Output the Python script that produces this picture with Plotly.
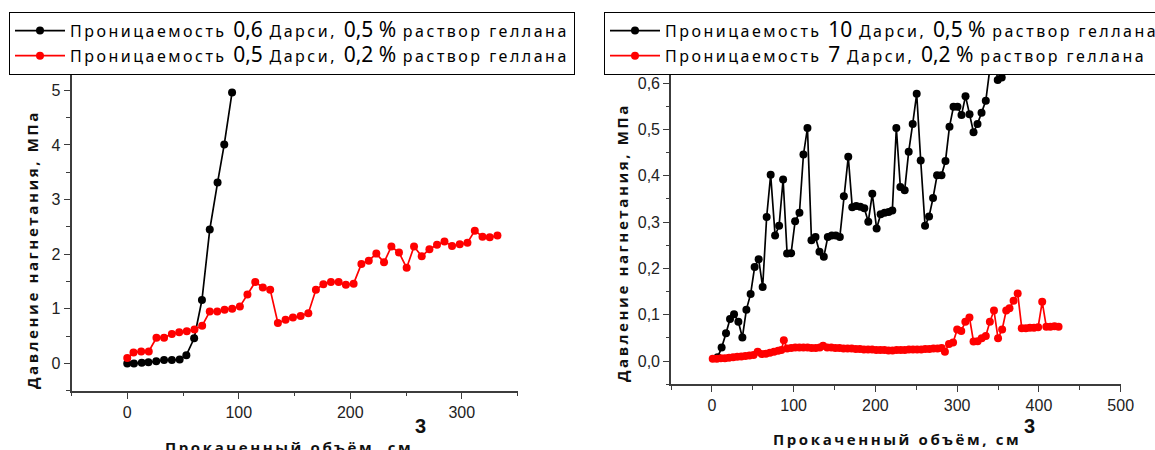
import plotly.graph_objects as go

# ---------------- data ----------------
# Left chart
left_black_x = [0, 6, 13, 19, 26, 33, 40, 47, 53, 60, 67, 74, 81, 87, 94]
left_black_y = [0.0, 0.0, 0.01, 0.02, 0.04, 0.06, 0.06, 0.07, 0.15, 0.46, 1.16, 2.45, 3.31, 4.01, 4.96]

left_red_x = [0, 5.6, 12.5, 19.3, 26.2, 33, 40, 46.6, 53.4, 60.3, 67.2, 74, 80.7, 87.3, 94.1,
              101, 107.8, 114.8, 121.6, 128.2, 135.1, 142, 148.6, 155.5, 162.4, 169.2, 175.9,
              182.7, 189.6, 196.1, 203, 210, 216.6, 223.4, 230.3, 236.9, 243.7, 250.6, 257.2,
              264.1, 271, 277.8, 284.5, 291.3, 298.2, 305.1, 311.7, 318.6, 325.1, 332]
left_red_y = [0.1, 0.2, 0.22, 0.22, 0.47, 0.47, 0.54, 0.57, 0.59, 0.62, 0.69, 0.95, 0.95, 0.98, 1.0,
              1.04, 1.26, 1.49, 1.39, 1.35, 0.74, 0.80, 0.84, 0.87, 0.92, 1.35, 1.45, 1.49, 1.49,
              1.44, 1.46, 1.82, 1.88, 2.01, 1.85, 2.14, 2.03, 1.75, 2.14, 1.96, 2.09, 2.17, 2.23,
              2.15, 2.18, 2.21, 2.43, 2.32, 2.31, 2.34]

# Right chart
right_black_x = [7, 11.9, 17.3, 22.2, 27.1, 32.4, 37.3, 42.2, 47.4, 52.3, 57.2, 62.1, 67, 71.9,
                 77.3, 82.2, 87.1, 92, 96.9, 101.8, 107.1, 112, 116.9, 121.8, 126.7, 131.6, 136.9,
                 141.8, 146.7, 151.6, 156.5, 161.4, 166.8, 171.7, 176.6, 181.5, 186.4, 191.3,
                 196.2, 201.5, 206.4, 211.3, 216.2, 220.7, 225.6, 230.5, 235.8, 240.7, 245.6,
                 250.5, 255.4, 260.7, 265.6, 270.5, 275.4, 280.8, 285.7, 290.6, 295.5, 300.4,
                 305.3, 310.2, 315.1, 320, 324.9, 329.8, 335, 339.9, 344.8, 349.6, 354.5]
right_black_y = [0.008, 0.029, 0.060, 0.091, 0.101, 0.085, 0.051, 0.111, 0.145, 0.203, 0.220,
                 0.160, 0.311, 0.402, 0.271, 0.292, 0.392, 0.232, 0.233, 0.302, 0.320, 0.446,
                 0.503, 0.261, 0.268, 0.236, 0.225, 0.268, 0.271, 0.271, 0.268, 0.356, 0.441,
                 0.332, 0.335, 0.333, 0.330, 0.301, 0.361, 0.286, 0.317, 0.320, 0.322, 0.325,
                 0.503, 0.376, 0.369, 0.452, 0.512, 0.577, 0.433, 0.292, 0.312, 0.352, 0.401,
                 0.401, 0.432, 0.506, 0.549, 0.549, 0.531, 0.572, 0.533, 0.494, 0.512, 0.536,
                 0.562, 0.630, 0.660, 0.607, 0.612]

right_red_x = [1, 6, 11, 16, 21, 26, 31, 36, 41, 46, 51, 56, 61, 66, 71, 76, 81, 85, 88, 92, 97,
               102, 107, 112, 117, 122, 127, 132, 136, 141, 146, 151, 156, 161, 166, 171, 176,
               181, 186, 191, 196, 201, 206, 211, 216, 221, 226, 231, 236, 241, 246, 251, 256,
               261, 266, 271, 276, 281, 285, 290, 295, 300, 305, 310, 315, 320, 325, 330, 335,
               340, 345, 350, 355, 360, 364, 369, 374, 379, 384, 389, 394, 399, 404, 409, 414,
               419, 424]
right_red_y = [0.005, 0.005, 0.006, 0.006, 0.007, 0.008, 0.009, 0.010, 0.011, 0.012, 0.013,
               0.020, 0.015, 0.016, 0.018, 0.020, 0.022, 0.024, 0.045, 0.027, 0.028, 0.029,
               0.029, 0.029, 0.029, 0.028, 0.028, 0.029, 0.033, 0.029, 0.029, 0.028, 0.028,
               0.027, 0.027, 0.027, 0.026, 0.026, 0.025, 0.025, 0.025, 0.024, 0.024, 0.024,
               0.023, 0.023, 0.024, 0.024, 0.024, 0.025, 0.025, 0.025, 0.025, 0.026, 0.026,
               0.027, 0.027, 0.028, 0.020, 0.037, 0.040, 0.068, 0.065, 0.085, 0.094, 0.042,
               0.043, 0.049, 0.054, 0.085, 0.109, 0.049, 0.068, 0.109, 0.114, 0.130, 0.146,
               0.071, 0.071, 0.072, 0.072, 0.073, 0.128, 0.074, 0.074, 0.075, 0.074]

# Legend labels: (text, is_number)
left_black_label = [("Проницаемость ", False), ("0,6", True), (" Дарси, ", False),
                    ("0,5 %", True), (" раствор геллана", False)]
left_red_label = [("Проницаемость ", False), ("0,5", True), (" Дарси, ", False),
                  ("0,2 %", True), (" раствор геллана", False)]
right_black_label = [("Проницаемость ", False), ("10", True), (" Дарси, ", False),
                     ("0,5 %", True), (" раствор геллана", False)]
right_red_label = [("Проницаемость ", False), ("7", True), (" Дарси, ", False),
                   ("0,2 %", True), (" раствор геллана", False)]

y_title = "Давление нагнетания, МПа"
x_title = "Прокаченный объём, см"
x_title_sup = "3"

left_x_ticks = [0, 100, 200, 300]
left_y_ticks = [0, 1, 2, 3, 4, 5]
right_x_ticks = [0, 100, 200, 300, 400, 500]
right_y_ticks = [0.0, 0.1, 0.2, 0.3, 0.4, 0.5, 0.6]

# ---------------- helpers ----------------
W, H = 1155, 450


def styled(parts):
    out = []
    for txt, big in parts:
        if big:
            out.append('<span style="font-size:21px">%s</span>' % txt)
        else:
            out.append('<span style="font-size:16px;letter-spacing:2.5px">%s</span>' % txt)
    return "".join(out)


def px_x(p):
    return p / W


def px_y(p):
    return 1 - p / H


fig = go.Figure()

mk = 8
lw = 1.7
fig.add_trace(go.Scatter(x=left_black_x, y=left_black_y, mode="lines+markers",
                         line=dict(color="black", width=lw),
                         marker=dict(color="black", size=mk),
                         name=styled(left_black_label), xaxis="x", yaxis="y", legend="legend"))
fig.add_trace(go.Scatter(x=left_red_x, y=left_red_y, mode="lines+markers",
                         line=dict(color="#ff0000", width=lw),
                         marker=dict(color="#ff0000", size=mk),
                         name=styled(left_red_label), xaxis="x", yaxis="y", legend="legend"))
fig.add_trace(go.Scatter(x=right_black_x, y=right_black_y, mode="lines+markers",
                         line=dict(color="black", width=lw),
                         marker=dict(color="black", size=mk),
                         name=styled(right_black_label), xaxis="x2", yaxis="y2", legend="legend2"))
fig.add_trace(go.Scatter(x=right_red_x, y=right_red_y, mode="lines+markers",
                         line=dict(color="#ff0000", width=lw),
                         marker=dict(color="#ff0000", size=mk),
                         name=styled(right_red_label), xaxis="x2", yaxis="y2", legend="legend2"))

axis_color = "#3c3c3c"
tick_font = dict(family="Arial, Liberation Sans", size=16, color="#222222")
common = dict(showline=True, linecolor=axis_color, linewidth=1.6, ticks="outside",
              tickcolor=axis_color, tickwidth=1.4, ticklen=6, showgrid=False,
              zeroline=False, tickfont=tick_font, mirror=False)

legend_common = dict(xanchor="left", yanchor="top",
                     bgcolor="white", bordercolor="black", borderwidth=1,
                     font=dict(family="Noto Sans", size=17, color="black"),
                     itemwidth=50, tracegroupgap=0)

fig.update_layout(
    width=W, height=H,
    margin=dict(l=0, r=0, t=0, b=0, autoexpand=False),
    paper_bgcolor="white", plot_bgcolor="white",
    separators=", ",
    showlegend=True,
    xaxis=dict(domain=[px_x(71.5), px_x(517.5)], range=[-50, 350], anchor="y",
               tickvals=left_x_ticks,
               minor=dict(dtick=50, tick0=0, ticks="outside", ticklen=3.5, tickcolor=axis_color,
                          tickwidth=1.2),
               **common),
    yaxis=dict(domain=[px_y(390.7), px_y(63)], range=[-0.5, 5.5], anchor="x",
               tickvals=left_y_ticks,
               minor=dict(dtick=0.5, tick0=0, ticks="outside", ticklen=3.5, tickcolor=axis_color,
                          tickwidth=1.2),
               **common),
    xaxis2=dict(domain=[px_x(671), px_x(1120.7)], range=[-50, 500], anchor="y2",
                tickvals=right_x_ticks,
                minor=dict(dtick=50, tick0=0, ticks="outside", ticklen=3.5, tickcolor=axis_color,
                           tickwidth=1.2),
                **common),
    yaxis2=dict(domain=[px_y(384.2), px_y(60)], range=[-0.05, 0.65], anchor="x2",
                tickvals=right_y_ticks, tickformat=".1f",
                minor=dict(dtick=0.05, tick0=0, ticks="outside", ticklen=3.5, tickcolor=axis_color,
                           tickwidth=1.2),
                **common),
    legend=dict(x=px_x(9), y=px_y(12), **legend_common),
    legend2=dict(x=px_x(604), y=px_y(12), **legend_common),
)

title_font = dict(family="Open Sans", size=15, color="#111111", weight="bold")
sup_font = dict(family="Arial, Liberation Sans", size=20, color="#111111", weight="bold")


def spaced(t):
    return '<span style="letter-spacing:2.6px">%s</span>' % t


annots = [
    dict(text=spaced(y_title), x=px_x(32), y=px_y(250), textangle=-90),
    dict(text=spaced(y_title), x=px_x(622), y=px_y(243), textangle=-90),
    dict(text=spaced(x_title), x=px_x(289), y=px_y(447)),
    dict(text=spaced(x_title), x=px_x(897), y=px_y(439)),
]
for a in annots:
    fig.add_annotation(xref="paper", yref="paper", showarrow=False, xanchor="center",
                       yanchor="middle", font=title_font, **a)
for sx, sy in [(420, 426), (1029, 426)]:
    fig.add_annotation(text=x_title_sup, xref="paper", yref="paper", x=px_x(sx), y=px_y(sy),
                       showarrow=False, xanchor="center", yanchor="middle", font=sup_font)

fig.write_html("out.html")
